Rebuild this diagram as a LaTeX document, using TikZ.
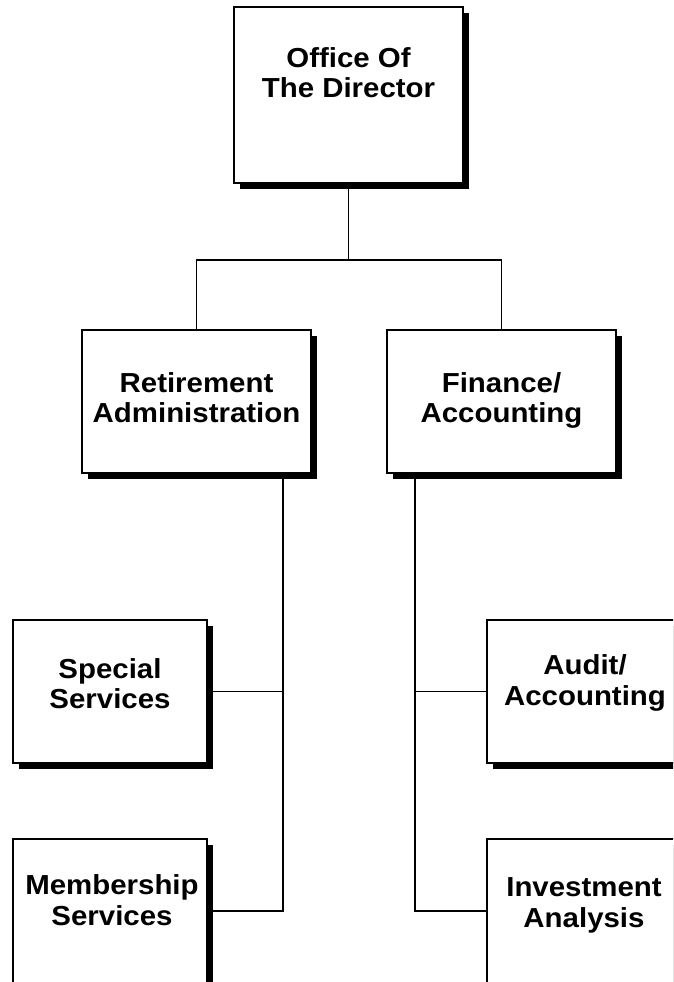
\documentclass[tikz,border=0pt]{standalone}
\usepackage{fontspec}
\setmainfont[FakeStretch=1.07]{Liberation Sans}
\usetikzlibrary{shadows}
\begin{document}
\begin{tikzpicture}[x=1pt,y=-1pt,
  orgbox/.style={draw=black, line width=1.5pt, fill=white, rectangle, inner sep=0pt,
    drop shadow={opacity=1, fill=black, shadow xshift=6pt, shadow yshift=-6pt}},
  boxtext/.style={font=\fontsize{27.5}{30.5}\selectfont\bfseries, align=center, anchor=base, inner sep=0pt},
  conn/.style={draw=black, line width=1.5pt}]
\useasboundingbox (0,0) rectangle (673,982);
\clip (0,0) rectangle (673,982);
% boxes
\node[orgbox, minimum width=229pt, minimum height=176pt] (dir) at (348.5,95) {};
\node[orgbox, minimum width=229pt, minimum height=143pt] (ret) at (196.5,401.5) {};
\node[orgbox, minimum width=229pt, minimum height=143pt] (fin) at (501.5,401.5) {};
\node[orgbox, minimum width=194pt, minimum height=143pt] (spec) at (110,691.5) {};
\node[orgbox, minimum width=194pt, minimum height=143pt] (aud) at (584,691.5) {};
\node[orgbox, minimum width=194pt, minimum height=144pt] (mem) at (110,911) {};
\node[orgbox, minimum width=194pt, minimum height=144pt] (inv) at (584,911) {};
% texts (base anchor = baseline of last line)
\node[boxtext] (dirT) at (348.5,97.5) {Office Of\\The Director};
\node[boxtext] (retT) at (196.5,422.5) {Retirement\\Administration};
\node[boxtext] (finT) at (501.5,422.5) {Finance/\\Accounting};
\node[boxtext] (specT) at (110,708.5) {Special\\Services};
\node[boxtext] (audT) at (585,705) {Audit/\\Accounting};
\node[boxtext] (memT) at (112,925) {Membership\\Services};
\node[boxtext] (invT) at (584,927) {Investment\\Analysis};
% connectors
\coordinate (j) at (348.5,260);
\coordinate (retdrop) at (283,473);
\coordinate (findrop) at (415,473);
\draw[conn] (dir.south) -- (j);
\draw[conn] (ret.north) |- (j) -| (fin.north);
\draw[conn] (retdrop) |- (mem.east);
\draw[conn] (spec.east) -- (spec.east -| retdrop);
\draw[conn] (findrop) |- (inv.west);
\draw[conn] (aud.west) -- (aud.west -| findrop);
\end{tikzpicture}
\end{document}
